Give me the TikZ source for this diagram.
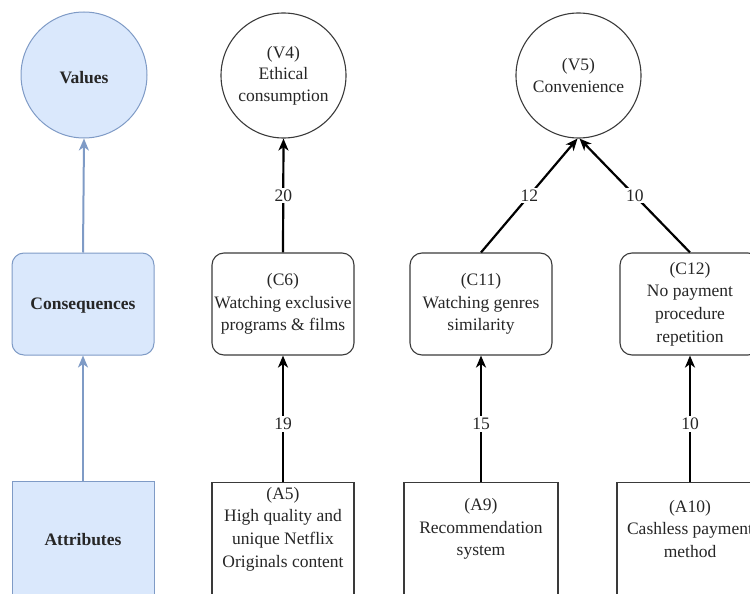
\documentclass[tikz,border=0pt]{standalone}
\usepackage{fontspec}
\setmainfont{Liberation Serif}
\usetikzlibrary{arrows.meta}
\definecolor{bluefill}{HTML}{DAE8FC}
\definecolor{bluestroke}{HTML}{7F9BC6}
\definecolor{graystroke}{HTML}{3A3A3A}
\definecolor{textcol}{HTML}{262626}
\begin{document}
\begin{tikzpicture}[x=1pt,y=-1pt,
  every node/.style={text=textcol, font={\fontsize{17.5}{22.7}\selectfont}},
  bluecirc/.style={circle, draw=bluestroke, fill=bluefill, line width=1pt, minimum size=126pt, inner sep=0pt},
  bluebox/.style={rectangle, rounded corners=12pt, draw=bluestroke, fill=bluefill, line width=1pt, minimum width=142pt, minimum height=102pt, inner sep=0pt},
  bluerect/.style={rectangle, draw=bluestroke, fill=bluefill, line width=1pt, minimum width=142pt, minimum height=140pt, inner sep=0pt, anchor=north},
  vcirc/.style={circle, draw=graystroke, line width=1.1pt, minimum size=125pt, inner sep=0pt, align=center, font={\fontsize{17.5}{21.5}\selectfont}},
  cbox/.style={rectangle, rounded corners=12pt, draw=graystroke, line width=1.1pt, minimum width=142pt, minimum height=102pt, inner sep=0pt, align=center},
  abox/.style={rectangle, draw=graystroke, line width=1.1pt, minimum height=150pt, inner sep=0pt, anchor=north},
  txt/.style={align=center, inner sep=0pt},
  blab/.style={font={\fontsize{17.5}{22.7}\selectfont\bfseries}, text=black!85},
  arr/.style={-{Stealth[length=12pt,width=10pt,inset=3.5pt]}, line width=2.2pt, black},
  barr/.style={-{Stealth[length=12pt,width=10pt,inset=3.5pt]}, line width=2pt, bluestroke},
  lbl/.style={fill=white, inner sep=2pt}
]
\useasboundingbox (0,0) rectangle (750,594);
\clip (0,0) rectangle (750,594);

% left legend column
\node[bluecirc] (vals) at (84,75) {};
\node[blab] (valst) at (84,78) {Values};
\node[bluebox] (cons) at (83,304) {};
\node[blab] (const) at (83,306) {Consequences};
\node[bluerect, minimum width=142pt] (attr) at (83,481) {};
\node[blab] (attrt) at (83,540) {Attributes};
\draw[barr] (attr.north) -- (cons.south);
\draw[barr] (cons.north) -- (vals.south);

% values
\node[vcirc] (v4) at (283.5,75.5) {(V4)\\Ethical\\consumption};
\node[vcirc] (v5) at (578.5,75.5) {(V5)\\Convenience};

% consequences
\node[cbox] (c6) at (283,304) {(C6)\\Watching exclusive\\programs \& films};
\node[cbox] (c11) at (481,304) {(C11)\\Watching genres\\similarity};
\node[cbox, minimum width=140pt] (c12) at (690,304) {(C12)\\No payment\\procedure\\repetition};

% attributes
\node[abox, minimum width=142pt] (a5) at (283,482) {};
\node[txt] (a5t) at (283,529) {(A5)\\High quality and\\unique Netflix\\Originals content};
\node[abox, minimum width=154pt] (a9) at (481,482) {};
\node[txt] (a9t) at (481,529) {(A9)\\Recommendation\\system};
\node[abox, minimum width=146pt] (a10) at (690,482) {};
\node[txt] (a10t) at (690,529) {(A10)\\Cashless payment\\method};

% connectors
\draw[arr] (c6.north) -- node[lbl] {20} (v4.south);
\draw[arr] (c11.north) -- node[lbl] {12} ([xshift=-1pt]v5.south);
\draw[arr] (c12.north) -- node[lbl] {10} ([xshift=1pt]v5.south);
\draw[arr] (a5.north) -- node[lbl, pos=0.46] {19} (c6.south);
\draw[arr] (a9.north) -- node[lbl, pos=0.46] {15} (c11.south);
\draw[arr] (a10.north) -- node[lbl, pos=0.46] {10} (c12.south);
\end{tikzpicture}
\end{document}
